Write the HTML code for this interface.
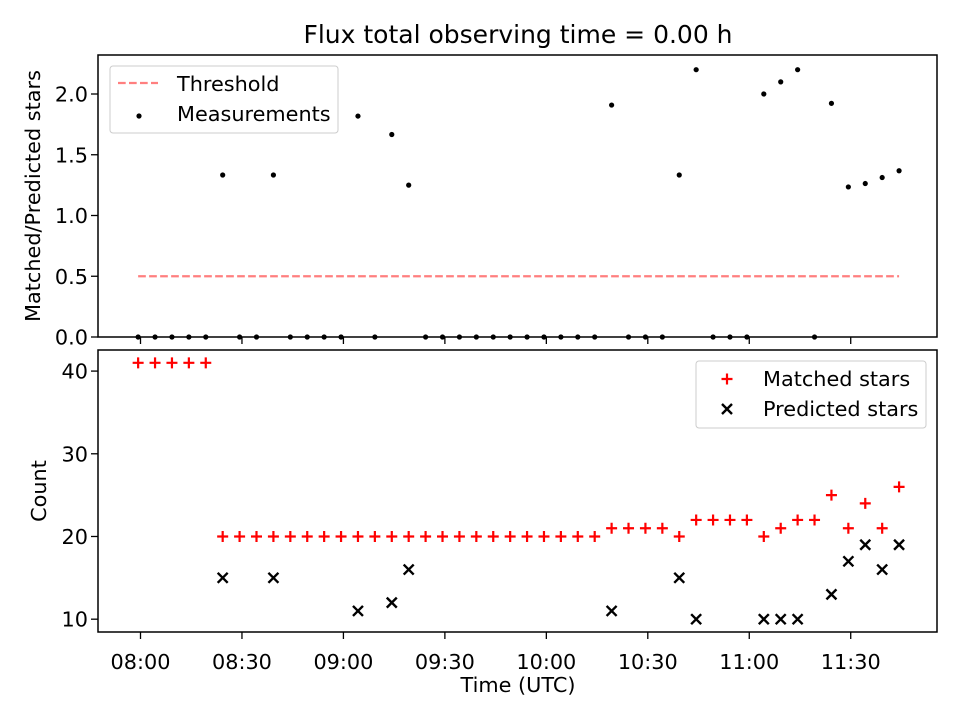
<!DOCTYPE html>
<html><head><meta charset="utf-8"><style>
body{margin:0;background:#fff;}
svg text{font-family:"DejaVu Sans","Liberation Sans",sans-serif;fill:#000;}
</style></head><body>
<svg id="chart" width="960" height="720" xmlns="http://www.w3.org/2000/svg">
<rect width="960" height="720" fill="#fff"/>
<text x="518" y="43" font-size="25" text-anchor="middle">Flux total observing time = 0.00 h</text>
<g id="topPanel"></g><g id="botPanel"></g>
</svg>
<script>
// minutes after 08:00 for each observation
const times = [-0.7,4.3,9.3,14.3,19.3,24.3,29.3,34.3,39.3,44.3,49.3,54.3,59.3,64.3,69.3,74.3,79.3,84.3,89.3,94.3,99.3,104.3,109.3,114.3,119.3,124.3,129.3,134.3,139.3,144.3,149.3,154.3,159.3,164.3,169.3,174.3,179.3,184.3,189.3,194.3,199.3,204.3,209.3,214.3,219.3,224.3];
const matched = [41,41,41,41,41,20,20,20,20,20,20,20,20,20,20,20,20,20,20,20,20,20,20,20,20,20,20,20,21,21,21,21,20,22,22,22,22,20,21,22,22,25,21,24,21,26];
const predicted = [0,0,0,0,0,15,0,0,15,0,0,0,0,11,0,12,16,0,0,0,0,0,0,0,0,0,0,0,11,0,0,0,15,10,0,0,0,10,10,10,0,13,17,19,16,19];
const threshold = 0.5;
const xTickLabels = ["08:00","08:30","09:00","09:30","10:00","10:30","11:00","11:30"];
const xTickMinutes = [0,30,60,90,120,150,180,210];
const topTicks = [0.0,0.5,1.0,1.5,2.0];
const botTicks = [10,20,30,40];

const NS="http://www.w3.org/2000/svg";
const L=98,R=937,FS=20.8;
const x=m=>140.5+m*3.382;
const yT=v=>337-(v-0)/(2.321)*282;
const yB=v=>632-(v-8.45)/(34.1)*282;
function el(tag,attrs,parent,txt){const e=document.createElementNS(NS,tag);for(const k in attrs)e.setAttribute(k,attrs[k]);if(txt!==undefined)e.textContent=txt;parent.appendChild(e);return e;}
const gTop=document.getElementById('topPanel'),gBot=document.getElementById('botPanel');

function axes(g,y0,y1,name){
  const r=el('rect',{x:L,y:y0,width:R-L,height:y1-y0,fill:'none',stroke:'#000','stroke-width':1.5},g);
  
  
}
const ratio=matched.map((m,i)=>predicted[i]>0?m/predicted[i]:0);
const th=el('line',{x1:x(times[0]),x2:x(times[times.length-1]),y1:yT(threshold),y2:yT(threshold),stroke:'#ff0000','stroke-opacity':0.5,'stroke-width':2.2,'stroke-dasharray':'7.7,3.3'},gTop);


ratio.forEach((v,i)=>{
  const c=el('circle',{cx:x(times[i]),cy:yT(v),r:2.6,fill:'#000'},gTop);
  
  
});
axes(gTop,55,337,'top-axes-frame');
topTicks.forEach(t=>{
  el('line',{x1:L-7,x2:L,y1:yT(t),y2:yT(t),stroke:'#000','stroke-width':1.3},gTop);
  const tx=el('text',{x:L-10,y:yT(t)+7.5,'font-size':FS,'text-anchor':'end'},gTop,t.toFixed(1));
  
  
});
xTickMinutes.forEach(m=>{el('line',{x1:x(m),x2:x(m),y1:337,y2:344,stroke:'#000','stroke-width':1.3},gTop);});
const yl1=el('text',{x:0,y:0,'font-size':FS,'text-anchor':'middle',transform:'translate(40,196) rotate(-90)'},gTop,'Matched/Predicted stars');


const lg1=el('g',{},gTop);


el('rect',{x:110,y:66,width:228,height:67,rx:3,fill:'#fff','fill-opacity':0.8,stroke:'#ccc'},lg1);
el('line',{x1:118,x2:158,y1:83,y2:83,stroke:'#ff0000','stroke-opacity':0.5,'stroke-width':2.2,'stroke-dasharray':'7.7,3.3'},lg1);
el('text',{x:177,y:91,'font-size':FS},lg1,'Threshold');
el('circle',{cx:139,cy:116,r:2.6,fill:'#000'},lg1);
el('text',{x:177,y:121,'font-size':FS},lg1,'Measurements');

matched.forEach((v,i)=>{
  const cx=x(times[i]),cy=yB(v);
  const p=el('path',{d:`M${cx-5.5},${cy}H${cx+5.5}M${cx},${cy-5.5}V${cy+5.5}`,stroke:'#ff0000','stroke-width':2.2},gBot);
  
  
});
predicted.forEach((v,i)=>{
  if(v<=0)return;
  const cx=x(times[i]),cy=yB(v),s=5;
  const p=el('path',{d:`M${cx-s},${cy-s}L${cx+s},${cy+s}M${cx-s},${cy+s}L${cx+s},${cy-s}`,stroke:'#000','stroke-width':2.4},gBot);
  
  
});
axes(gBot,350,632,'bottom-axes-frame');
botTicks.forEach(t=>{
  el('line',{x1:L-7,x2:L,y1:yB(t),y2:yB(t),stroke:'#000','stroke-width':1.3},gBot);
  const tx=el('text',{x:L-10,y:yB(t)+7.5,'font-size':FS,'text-anchor':'end'},gBot,String(t));
  
  
});
xTickMinutes.forEach((m,i)=>{
  el('line',{x1:x(m),x2:x(m),y1:632,y2:639,stroke:'#000','stroke-width':1.3},gBot);
  const tx=el('text',{x:x(m),y:669,'font-size':FS,'text-anchor':'middle'},gBot,xTickLabels[i]);
  
  
});
const yl2=el('text',{x:0,y:0,'font-size':FS,'text-anchor':'middle',transform:'translate(46,491) rotate(-90)'},gBot,'Count');


const xl=el('text',{x:518,y:692,'font-size':FS,'text-anchor':'middle'},gBot,'Time (UTC)');


const lg2=el('g',{},gBot);


el('rect',{x:696,y:361,width:230,height:67,rx:3,fill:'#fff','fill-opacity':0.8,stroke:'#ccc'},lg2);
el('path',{d:'M721.5,379H732.5M727,373.5V384.5',stroke:'#ff0000','stroke-width':2.2},lg2);
el('text',{x:763,y:386,'font-size':FS},lg2,'Matched stars');
el('path',{d:'M722,404L732,414M722,414L732,404',stroke:'#000','stroke-width':2.4},lg2);
el('text',{x:763,y:416,'font-size':FS},lg2,'Predicted stars');
</script>
</body></html>
